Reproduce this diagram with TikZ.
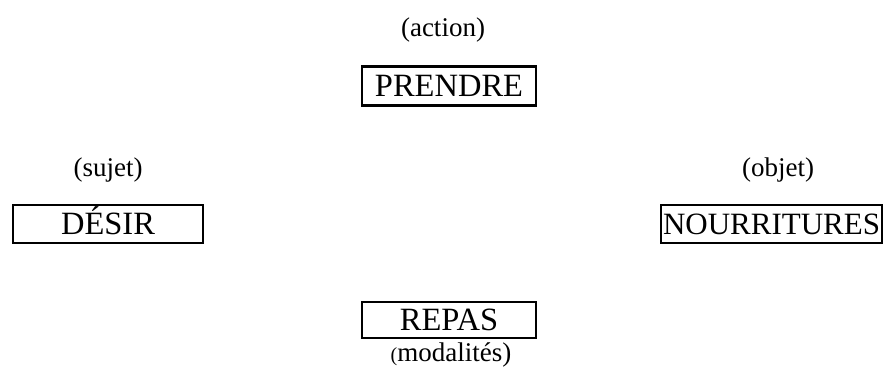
\documentclass[tikz,border=0pt]{standalone}
\usepackage{fontspec}
\setmainfont{Liberation Serif}
\begin{document}
\begin{tikzpicture}[x=1pt,y=-1pt,
  box/.style={draw, line width=2.2pt, inner sep=0pt, minimum height=38pt, text height=21pt, text depth=0pt, font=\fontsize{32.5}{36}\selectfont},
  lbl/.style={inner sep=0pt, font=\fontsize{27}{32}\selectfont}]
\useasboundingbox (0,0) rectangle (885,378);
\node[box, minimum width=174pt, minimum height=39pt] (prendre) at (449,86) {PRENDRE};
\node[box, minimum width=190pt] (desir) at (108,224) {DÉSIR};
\node[box, minimum width=221pt, font=\fontsize{31}{36}\selectfont] (nourr) at (771.5,224) {NOURRITURES};
\node[box, minimum width=174pt, minimum height=36pt] (repas) at (449,320) {REPAS};
\node[lbl] (action) at (443,30) {(action)};
\node[lbl] (sujet) at (108,170) {(sujet)};
\node[lbl] (objet) at (778,170) {(objet)};
\node[lbl] (modal) at (451,355) {{\fontsize{20}{24}\selectfont(}modalités)};
\end{tikzpicture}
\end{document}
